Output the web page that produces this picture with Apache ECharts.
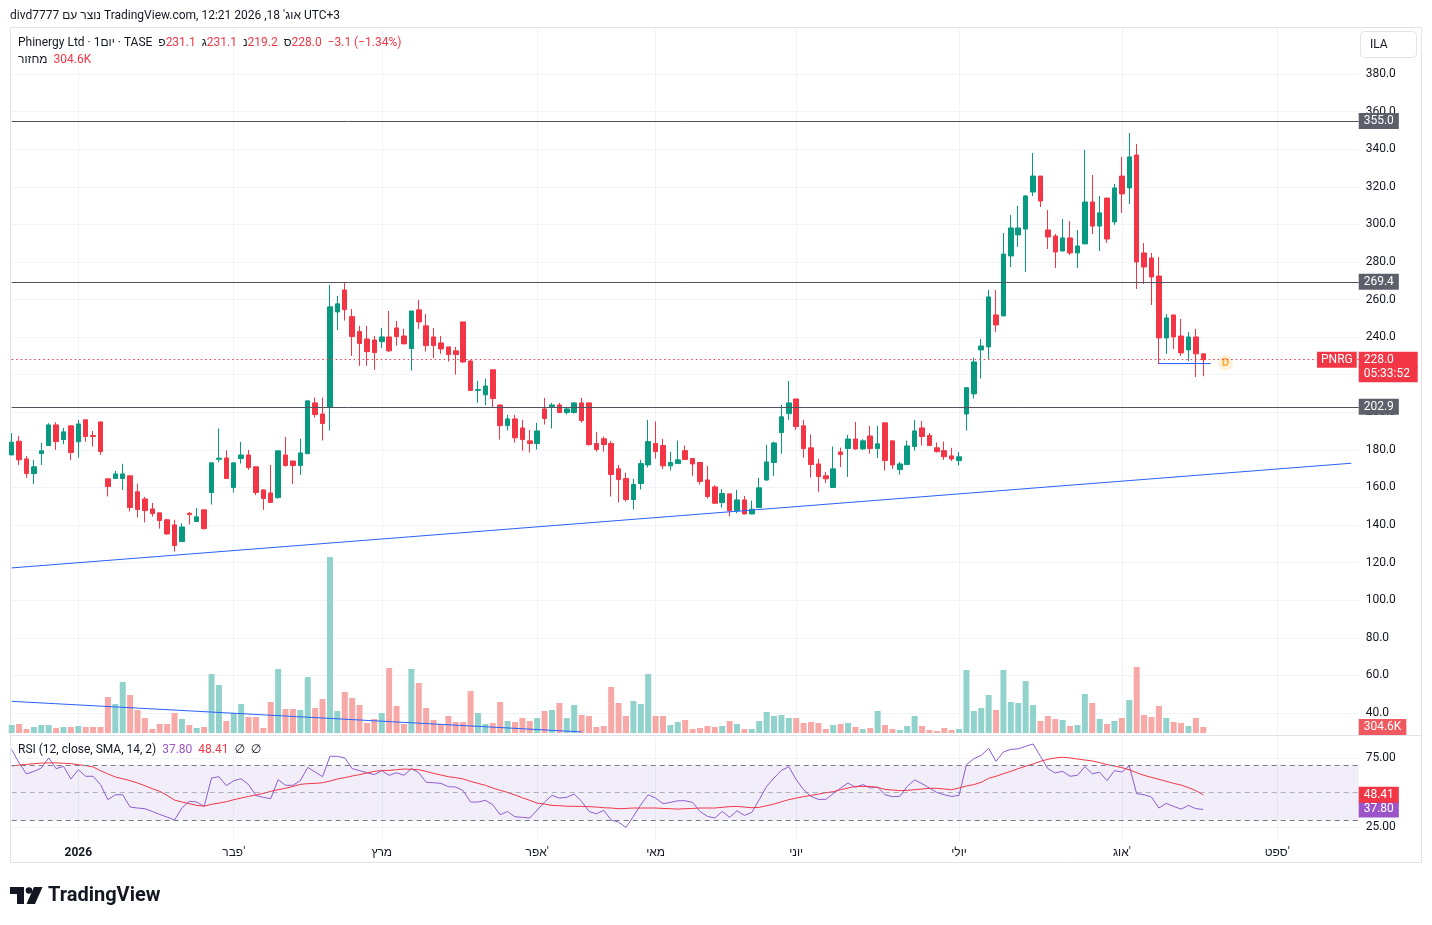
<!DOCTYPE html>
<html><head><meta charset="utf-8">
<script src="https://cdn.jsdelivr.net/npm/echarts@6/dist/echarts.min.js"></script>
<style>html,body{margin:0;padding:0;background:#fff;}#c{width:1432px;height:925px;}</style>
</head><body><div id="c"></div>
<script>
// ---------- DATA ----------
const opens = [177.3,184.6,175.2,167.4,178.0,182.3,193.3,185.5,192.8,184.3,
196.0,187.6,194.9,164.6,164.8,164.8,166.2,157.7,153.9,148.6,
146.5,142.8,140.1,131.2,146.3,141.9,148.1,157.3,175.0,175.7,
160.0,175.4,177.3,171.0,158.7,157.1,154.6,177.3,174.1,171.7,
178.0,205.0,199.1,202.7,253.4,265.1,250.9,243.0,239.0,238.5,
237.6,240.1,244.9,240.6,233.9,254.5,246.0,240.1,236.9,234.8,
232.7,248.1,227.3,211.7,209.3,222.6,203.9,192.9,196.5,191.7,
184.8,183.4,201.8,202.9,203.9,199.9,199.9,205.0,205.0,183.4,
185.9,183.4,169.9,164.8,153.6,162.1,172.0,183.4,182.3,171.5,
172.7,179.6,175.4,173.3,164.0,160.3,152.0,156.6,147.6,153.4,
145.9,149.3,164.0,173.3,189.2,199.3,207.1,192.8,181.1,172.5,
166.2,160.0,178.9,180.7,185.8,180.5,187.4,180.7,194.4,184.8,
169.5,172.2,181.8,191.7,187.6,181.1,179.6,176.8,174.3,199.1,
209.8,233.2,234.8,251.8,251.3,283.2,294.4,297.5,317.2,325.7,
297.0,293.8,285.8,292.8,284.8,289.6,311.9,299.1,314.0,301.3,
325.7,319.4,336.9,284.8,282.1,272.5,239.6,251.8,240.6,233.2,
240.1,231.1];
const highs = [188.9,187.4,176.8,174.7,183.7,194.2,194.7,191.7,192.8,196.0,
196.0,190.1,194.9,164.6,168.8,172.6,166.2,162.1,155.0,151.8,
146.5,143.3,142.8,141.0,146.8,149.1,148.1,173.1,191.4,179.8,
173.1,184.3,180.0,171.0,159.1,172.0,179.5,186.9,174.1,185.9,
206.1,207.8,207.8,267.8,261.9,269.0,255.0,246.0,246.0,240.6,
244.9,253.9,248.6,244.4,253.9,259.8,252.3,244.9,240.6,234.8,
234.8,248.1,227.9,216.7,217.8,222.6,203.9,198.6,198.6,196.0,
190.6,194.4,207.7,205.0,205.0,202.9,205.5,207.7,205.0,189.6,
187.1,184.8,172.0,167.9,164.6,174.7,196.0,195.1,185.8,178.9,
184.9,182.3,175.4,173.3,171.5,161.2,159.1,156.6,158.7,155.5,
153.0,165.1,182.7,184.4,203.9,216.7,207.1,196.0,188.2,175.2,
168.3,181.8,181.2,188.0,194.9,185.7,192.8,192.8,194.4,184.8,
173.6,184.9,196.0,195.4,189.0,183.9,184.4,181.1,178.9,213.5,
229.1,239.0,265.1,265.1,295.4,305.0,309.8,315.6,338.0,325.7,
307.6,294.9,302.9,301.8,297.0,339.6,326.3,315.1,314.0,321.5,
335.9,348.6,342.8,290.1,284.8,282.7,252.3,251.8,249.7,242.8,
244.4,231.1];
const lows = [177.3,172.0,165.1,161.9,172.0,182.3,180.0,183.0,174.7,175.9,
184.3,181.8,177.3,155.2,164.8,158.7,147.2,144.0,141.4,144.5,
138.1,134.8,125.9,131.2,140.3,141.9,137.6,150.9,173.3,164.8,
157.3,172.7,169.4,155.9,148.1,152.0,154.1,171.1,161.9,166.7,
178.0,197.2,185.0,190.3,243.8,248.8,230.0,224.7,224.7,222.6,
234.3,232.1,235.5,236.4,222.2,244.4,232.3,228.9,231.1,227.0,
220.1,226.3,211.6,205.0,203.9,202.5,185.5,190.3,183.9,179.6,
178.6,180.2,193.5,191.4,199.9,198.8,199.3,194.5,182.3,179.1,
179.1,155.2,152.0,152.5,148.3,158.9,170.6,175.4,169.7,169.0,
172.7,174.9,166.2,161.6,154.1,151.3,149.3,144.6,146.3,145.8,
145.9,149.3,163.5,166.2,177.9,196.0,190.6,175.9,165.3,157.7,
162.4,160.0,170.9,165.6,180.0,180.0,178.0,175.7,169.0,169.9,
166.9,172.2,179.6,182.3,182.3,178.6,174.7,174.1,171.7,190.3,
207.3,218.0,228.4,242.8,251.3,277.3,288.0,274.7,315.1,309.2,
286.9,276.8,285.8,283.7,276.8,289.6,294.9,285.8,290.1,299.7,
306.1,310.9,265.6,268.3,257.1,225.7,231.1,233.7,230.0,227.3,
218.8,219.2];
const closes = [184.1,174.7,167.4,171.0,179.5,193.3,184.4,189.6,178.6,193.8,
187.1,187.1,179.1,160.5,167.2,167.2,149.3,148.3,147.7,146.1,
142.4,135.3,129.1,139.0,145.6,144.4,138.1,173.1,175.6,164.8,
173.1,177.3,170.6,157.3,154.1,152.0,179.5,171.7,171.7,178.4,
206.1,198.8,194.0,256.1,257.7,254.6,240.3,236.6,232.3,231.8,
240.1,232.7,240.3,236.4,253.9,248.1,235.5,235.5,233.7,230.7,
230.7,226.8,211.6,212.1,214.0,207.3,192.9,196.5,186.4,185.5,
183.4,190.1,196.7,203.9,199.9,201.8,205.0,195.6,182.8,180.2,
182.8,166.9,164.2,153.6,161.6,172.7,184.4,179.1,171.5,173.3,
174.7,174.9,172.5,163.2,155.2,151.6,156.8,147.6,153.4,145.9,
148.4,159.8,173.6,183.7,197.6,205.0,192.4,180.7,172.2,165.8,
164.6,169.9,177.5,185.8,180.5,184.8,180.7,183.2,174.3,172.0,
172.5,182.1,190.1,187.1,182.3,179.1,176.4,175.2,176.3,213.1,
226.8,235.3,261.4,246.5,284.2,298.1,298.1,315.1,325.7,312.4,
293.3,285.3,292.8,284.8,288.5,311.9,299.1,306.1,292.2,319.4,
316.2,335.9,280.0,277.3,272.0,239.6,250.2,240.1,231.6,240.1,
231.1,228.0];
// volume in thousands
const volumesK = [406,457,203,305,406,406,254,305,305,355,
305,305,305,1827,1472,2589,1929,1167,761,203,
457,457,1015,711,406,254,305,2995,2436,609,
1015,1472,812,812,254,1574,3249,1218,1218,1167,
2843,1269,1726,8934,1117,2081,1777,1421,508,711,
1015,3299,1371,457,3249,2538,1269,660,457,863,
558,558,2132,1015,457,508,1574,609,558,761,
609,761,1117,1167,1523,761,1421,914,863,305,
355,2335,1523,863,1624,1472,2995,863,863,406,
558,660,203,254,355,305,355,609,457,203,
203,609,1066,863,914,761,761,508,558,508,
203,406,457,508,305,203,254,1117,406,203,
152,355,863,355,152,102,254,152,203,3198,
1117,1269,1929,1167,3198,1574,1523,2640,1421,609,
863,711,660,355,406,1980,1523,711,457,609,
761,1675,3350,914,812,1371,761,558,508,355,
761,304.6];
const rsiValues = [81.5,71.7,63.7,65.6,68.0,75.4,67.6,69.3,60.0,66.8,
62.0,62.0,55.9,44.9,48.5,48.5,39.5,38.8,38.3,36.3,
34.1,32.2,30.0,38.8,43.7,43.2,40.0,60.7,61.7,55.1,
58.8,60.2,55.9,48.0,46.6,45.6,59.5,55.4,55.4,58.8,
68.5,65.1,61.7,76.6,76.6,75.4,67.6,66.1,64.6,63.2,
66.1,62.7,64.6,62.7,67.6,64.6,57.6,57.3,56.8,54.4,
54.1,51.5,43.2,43.2,44.4,41.2,33.9,36.3,32.4,32.0,
31.5,37.3,43.2,48.0,46.1,46.6,49.0,43.7,36.3,34.6,
37.1,30.0,28.5,24.6,32.7,41.2,48.5,46.1,42.0,42.9,
44.1,44.1,42.9,36.3,32.7,31.5,36.3,32.0,36.8,33.4,
35.6,44.9,54.6,60.7,66.3,69.0,59.5,52.2,47.3,45.1,
45.1,49.3,53.4,57.1,53.9,55.9,53.4,54.1,48.5,47.1,
47.3,54.6,59.3,56.6,53.4,50.2,48.5,47.3,48.0,70.5,
74.9,77.3,82.4,72.9,79.8,81.7,82.0,83.9,85.6,76.6,
67.6,64.4,65.6,62.0,62.7,69.0,63.9,64.9,58.8,66.1,
65.1,69.5,49.3,48.5,46.8,38.8,42.2,40.0,38.0,40.7,
38.3,37.80];
const rsiSmaValues = [69.5,70.2,70.7,71.2,71.6,71.8,71.8,71.5,71.2,70.5,
69.8,68.8,66.1,63.7,61.5,60.2,58.8,57.1,55.1,52.9,
51.0,48.0,44.6,43.2,42.0,40.7,40.2,41.5,42.4,43.4,
44.9,46.1,47.3,48.3,49.5,51.0,52.2,53.2,54.6,56.1,
56.6,56.8,57.3,58.5,60.0,61.0,62.2,63.2,64.4,65.6,
66.2,66.3,66.8,67.3,67.1,66.8,65.6,64.1,62.9,61.7,
61.0,60.0,58.3,56.8,55.4,53.4,51.7,50.2,48.3,46.3,
44.4,42.4,41.7,40.7,40.5,40.1,40.0,40.0,39.8,39.5,
39.0,38.8,38.3,38.5,38.8,38.8,38.8,38.8,38.5,38.3,
38.0,38.3,38.5,38.8,38.8,38.8,39.3,39.8,40.0,39.5,
39.0,39.3,40.5,41.7,43.4,44.9,46.1,47.1,48.0,49.0,
50.0,50.7,52.2,53.4,54.6,54.6,54.6,53.9,52.4,52.0,
51.5,51.7,52.2,52.7,53.2,53.2,52.7,52.2,53.4,54.9,
55.9,57.6,60.5,62.0,63.9,65.6,67.6,69.3,71.0,72.9,
74.4,75.4,75.9,75.4,74.6,73.9,73.2,72.0,70.5,69.5,
68.3,66.8,64.6,62.7,61.2,59.8,58.3,56.8,55.6,53.7,
51.5,48.41];
const monthTickIndex = [9, 30, 50, 71, 87, 106, 128, 150, 171];
const monthTickLabels = ['2026', "פבר'", 'מרץ', "אפר'", 'מאי', 'יוני', 'יולי', "אוג'", "ספט'"];
const priceTicks = [40,60,80,100,120,140,160,180,200,220,240,260,280,300,320,340,360,380];
const rsiTicks = [25, 75];
const rsiLevels = [70, 50, 30];
const priceLevels = [355.0, 269.4, 202.9];
const mainTrend = [[0, 117.2], [181, 172.9]];
const volumeTrend = [[0, 46.2], [77, 29.94]];
const shortLevel = [[155, 226.1], [162, 226.1]];
const dividendMarks = [[164, 226.3]];

// ---------- BUILD ----------
const FONT = "Roboto, 'Liberation Sans', 'DejaVu Sans', Arial, sans-serif";
const TEXT = '#131722';
const GRIDC = '#f0f3fa';
const UP = '#089981', DOWN = '#f23645';
const RSI_C = '#8e5cd0', RSI_BOX = '#9c55c9';
const HIDDEN = {color: 'rgba(0,0,0,0)', width: 0};
const N_SLOTS = 183;
const dayIndex = Array.from({length: N_SLOTS}, (_, i) => String(i));
const monthMap = {};
monthTickIndex.forEach((ix, k) => { monthMap[ix] = monthTickLabels[k]; });
const isMonth = i => monthMap[i] !== undefined;

const n = closes.length;
const candleData = opens.map((o, i) => [o, closes[i], lows[i], highs[i]]);
const volData = volumesK.map((v, i) => ({value: v, itemStyle: {color: closes[i] >= opens[i] ? '#92d2cc' : '#f7a9a7'}}));
const lastO = opens[n-1], lastH = highs[n-1], lastL = lows[n-1], lastC = closes[n-1];
const chg = lastC - closes[n-2];
const pct = chg / closes[n-2] * 100;
const fmtSigned = v => (v < 0 ? '\u2212' : '+') + Math.abs(v).toFixed(1);
const fmtPct = v => (v < 0 ? '\u2212' : '+') + Math.abs(v).toFixed(2) + '%';
const lastVol = volumesK[n-1];
const lastRsi = rsiValues[n-1], lastSma = rsiSmaValues[n-1];

// timer box sits one text line under the price box
const pxPerUnit = 705 / (404.48 - 29.36);
const timerLevel = lastC - 14.5 / pxPerUnit;

const boxLabel = (txt, bg, extra) => Object.assign({
  show: true, position: 'end', distance: 0, formatter: txt, color: '#ffffff',
  backgroundColor: bg, padding: [2, 5, 1, 5], fontSize: 12, fontFamily: FONT, lineHeight: 13
}, extra || {});

const mainMarkLines = [];
priceLevels.forEach(v => mainMarkLines.push({
  yAxis: v, lineStyle: {color: '#50535e', width: 1, type: 'solid'},
  label: boxLabel(v.toFixed(1), '#5d606b')
}));
mainMarkLines.push({yAxis: lastC, lineStyle: {color: DOWN, width: 1, type: [1.5, 3]},
  label: boxLabel(lastC.toFixed(1), DOWN, {width: 49})});
mainMarkLines.push({yAxis: timerLevel, lineStyle: HIDDEN,
  label: boxLabel('05:33:52', DOWN, {width: 49, padding: [1, 5, 2, 5]})});
mainMarkLines.push({yAxis: lastC, lineStyle: HIDDEN,
  label: boxLabel('PNRG', DOWN, {position: 'insideEnd', distance: 2, padding: [2, 4, 1, 4]})});
const seg = (pts, color) => [
  {coord: pts[0], lineStyle: {color: color, width: 1, type: 'solid'}, label: {show: false}},
  {coord: pts[1], lineStyle: {color: color, width: 1, type: 'solid'}, label: {show: false}}
];
mainMarkLines.push(seg(mainTrend, '#2962ff'));
mainMarkLines.push(seg(volumeTrend, '#2962ff'));
mainMarkLines.push(seg(shortLevel, '#2962ff'));

const rsiMarkLines = rsiLevels.map(v => ({
  yAxis: v, lineStyle: {color: v === 50 ? 'rgba(120,123,134,0.55)' : '#787b86', width: 1, type: [5, 4]},
  label: {show: false}
}));
rsiMarkLines.push({yAxis: lastRsi, lineStyle: HIDDEN, label: boxLabel(lastRsi.toFixed(2), RSI_BOX)});

const chart = echarts.init(document.getElementById('c'), null, {renderer: 'canvas'});
const option = {
  animation: false,
  backgroundColor: '#ffffff',
  textStyle: {fontFamily: FONT},
  title: [
    {left: 10, top: 10, padding: 0,
     text: 'divd7777 נוצר עם TradingView.com, אוג\' 18, 2026 12:21 UTC+3',
     textStyle: {fontSize: 12, fontWeight: 'normal', color: TEXT, fontFamily: FONT}},
    {left: 18, top: 37, padding: 0,
     text: '{n|Phinergy Ltd · 1יום · TASE}  {l|פ}{v|' + lastO.toFixed(1) + '}  {l|ג}{v|' + lastH.toFixed(1) +
           '}  {l|נ}{v|' + lastL.toFixed(1) + '}  {l|ס}{v|' + lastC.toFixed(1) + '}  {v|' + fmtSigned(chg) + ' (' + fmtPct(pct) + ')}',
     textStyle: {fontSize: 12, fontWeight: 'normal', color: TEXT, fontFamily: FONT,
       rich: {n: {fontSize: 12, color: TEXT, fontFamily: FONT}, l: {fontSize: 12, color: TEXT, fontFamily: FONT},
              v: {fontSize: 12, color: DOWN, fontFamily: FONT}}}},
    {left: 18, top: 54, padding: 0,
     text: '{l|מחזור}  {v|' + lastVol.toFixed(1) + 'K}',
     textStyle: {fontSize: 12, fontWeight: 'normal', color: TEXT, fontFamily: FONT,
       rich: {l: {fontSize: 12, color: TEXT, fontFamily: FONT}, v: {fontSize: 12, color: DOWN, fontFamily: FONT}}}},
    {left: 18, top: 744, padding: 0,
     text: '{n|RSI (12, close, SMA, 14, 2)}  {p|' + lastRsi.toFixed(2) + '}  {r|' + lastSma.toFixed(2) + '}  {n|∅}  {n|∅}',
     textStyle: {fontSize: 12, fontWeight: 'normal', color: TEXT, fontFamily: FONT,
       rich: {n: {fontSize: 12, color: TEXT, fontFamily: FONT}, p: {fontSize: 12, color: RSI_BOX, fontFamily: FONT},
              r: {fontSize: 12, color: DOWN, fontFamily: FONT}}}}
  ],
  grid: [
    {left: 11.7, top: 28, width: 1347, height: 705, outerBoundsMode: 'none', containLabel: false},
    {left: 11.7, top: 737, width: 1347, height: 104, outerBoundsMode: 'none', containLabel: false}
  ],
  xAxis: [
    {type: 'category', gridIndex: 0, data: dayIndex, boundaryGap: false,
     axisLine: {show: false}, axisTick: {show: false}, axisLabel: {show: false},
     splitLine: {show: true, interval: (i) => isMonth(i), lineStyle: {color: GRIDC, width: 1}}},
    {type: 'category', gridIndex: 1, data: dayIndex, boundaryGap: false,
     axisLine: {show: false}, axisTick: {show: false},
     axisLabel: {show: true, interval: (i) => isMonth(i), margin: 6, color: TEXT, fontSize: 12, fontFamily: FONT,
       formatter: (v) => { const t = monthMap[+v]; if (t === undefined) return ''; return (+v === monthTickIndex[0]) ? '{b|' + t + '}' : t; },
       rich: {b: {fontWeight: 'bold', fontSize: 12, color: TEXT, fontFamily: FONT}}},
     splitLine: {show: true, interval: (i) => isMonth(i), lineStyle: {color: GRIDC, width: 1}}}
  ],
  yAxis: [
    {type: 'value', gridIndex: 0, position: 'right', min: 29.36, max: 404.48, scale: true,
     axisLine: {show: false}, axisTick: {show: false, customValues: priceTicks},
     axisLabel: {customValues: priceTicks, formatter: (v) => v.toFixed(1), color: TEXT, fontSize: 12, margin: 7, fontFamily: FONT, padding: [4, 0, 0, 0]},
     splitLine: {show: true, lineStyle: {color: GRIDC, width: 1}}},
    {type: 'value', gridIndex: 0, position: 'left', min: 0, max: 35787, show: false, splitLine: {show: false}},
    {type: 'value', gridIndex: 1, position: 'right', min: 14.7, max: 90.7,
     axisLine: {show: false}, axisTick: {show: false, customValues: rsiTicks},
     axisLabel: {customValues: rsiTicks, formatter: (v) => v.toFixed(2), color: TEXT, fontSize: 12, margin: 7, fontFamily: FONT, padding: [3, 0, 0, 0]},
     splitLine: {show: true, lineStyle: {color: GRIDC, width: 1}}}
  ],
  series: [
    {type: 'bar', name: 'Volume', xAxisIndex: 0, yAxisIndex: 1, data: volData, barWidth: 6, z: 1,
     markLine: {symbol: ['none', 'none'], silent: true, animation: false,
       data: [{yAxis: lastVol, lineStyle: HIDDEN, label: boxLabel(lastVol.toFixed(1) + 'K', '#f0595f')}]}},
    {type: 'candlestick', name: 'PNRG', xAxisIndex: 0, yAxisIndex: 0, data: candleData, barWidth: 5, z: 3,
     itemStyle: {color: UP, color0: DOWN, borderColor: UP, borderColor0: DOWN, borderWidth: 1},
     markLine: {symbol: ['none', 'none'], silent: true, animation: false, data: mainMarkLines}},
    {type: 'scatter', name: 'Dividend', xAxisIndex: 0, yAxisIndex: 0, data: dividendMarks, symbol: 'circle', symbolSize: 15, z: 4,
     itemStyle: {color: 'rgba(255,152,0,0.18)'},
     label: {show: true, position: 'inside', formatter: 'D', color: '#ff9800', fontSize: 11, fontWeight: 'bold', fontFamily: FONT}},
    {type: 'line', name: 'RSI', xAxisIndex: 1, yAxisIndex: 2, data: rsiValues, symbol: 'none', z: 3,
     lineStyle: {color: RSI_C, width: 1}, itemStyle: {color: RSI_C},
     markArea: {silent: true, itemStyle: {color: 'rgba(126,87,194,0.10)'}, data: [[{yAxis: 30}, {yAxis: 70}]]},
     markLine: {symbol: ['none', 'none'], silent: true, animation: false, data: rsiMarkLines}},
    {type: 'line', name: 'RSI SMA', xAxisIndex: 1, yAxisIndex: 2, data: rsiSmaValues, symbol: 'none', z: 3,
     lineStyle: {color: DOWN, width: 1}, itemStyle: {color: DOWN},
     markLine: {symbol: ['none', 'none'], silent: true, animation: false,
       data: [{yAxis: lastSma, lineStyle: HIDDEN, label: boxLabel(lastSma.toFixed(2), DOWN)}]}}
  ],
  graphic: [
    {type: 'rect', z: -10, shape: {x: 10.5, y: 27.5, width: 1411, height: 835}, style: {fill: 'none', stroke: '#e0e3eb', lineWidth: 1}},
    {type: 'line', z: -10, shape: {x1: 10, y1: 735.5, x2: 1422, y2: 735.5}, style: {stroke: '#e0e3eb', lineWidth: 1}},
    {type: 'rect', shape: {x: 1360.5, y: 31.5, width: 56, height: 26, r: 4}, style: {fill: '#ffffff', stroke: '#e0e3eb', lineWidth: 1}},
    {type: 'text', x: 1370, y: 44.5, style: {text: 'ILA', fontSize: 12, fontFamily: FONT, fill: TEXT, verticalAlign: 'middle'}},
    {type: 'polygon', shape: {points: [[10, 887], [24, 887], [24, 904], [17, 904], [17, 894], [10, 894]]}, style: {fill: TEXT}},
    {type: 'circle', shape: {cx: 29, cy: 890.5, r: 3.3}, style: {fill: TEXT}},
    {type: 'polygon', shape: {points: [[34, 887], [42.5, 887], [35, 904], [26.5, 904]]}, style: {fill: TEXT}},
    {type: 'text', x: 48, y: 896, style: {text: 'TradingView', fontSize: 20, fontWeight: 'bold', fontFamily: FONT, fill: TEXT, verticalAlign: 'middle'}}
  ]
};
chart.setOption(option);
</script>
</body></html>
